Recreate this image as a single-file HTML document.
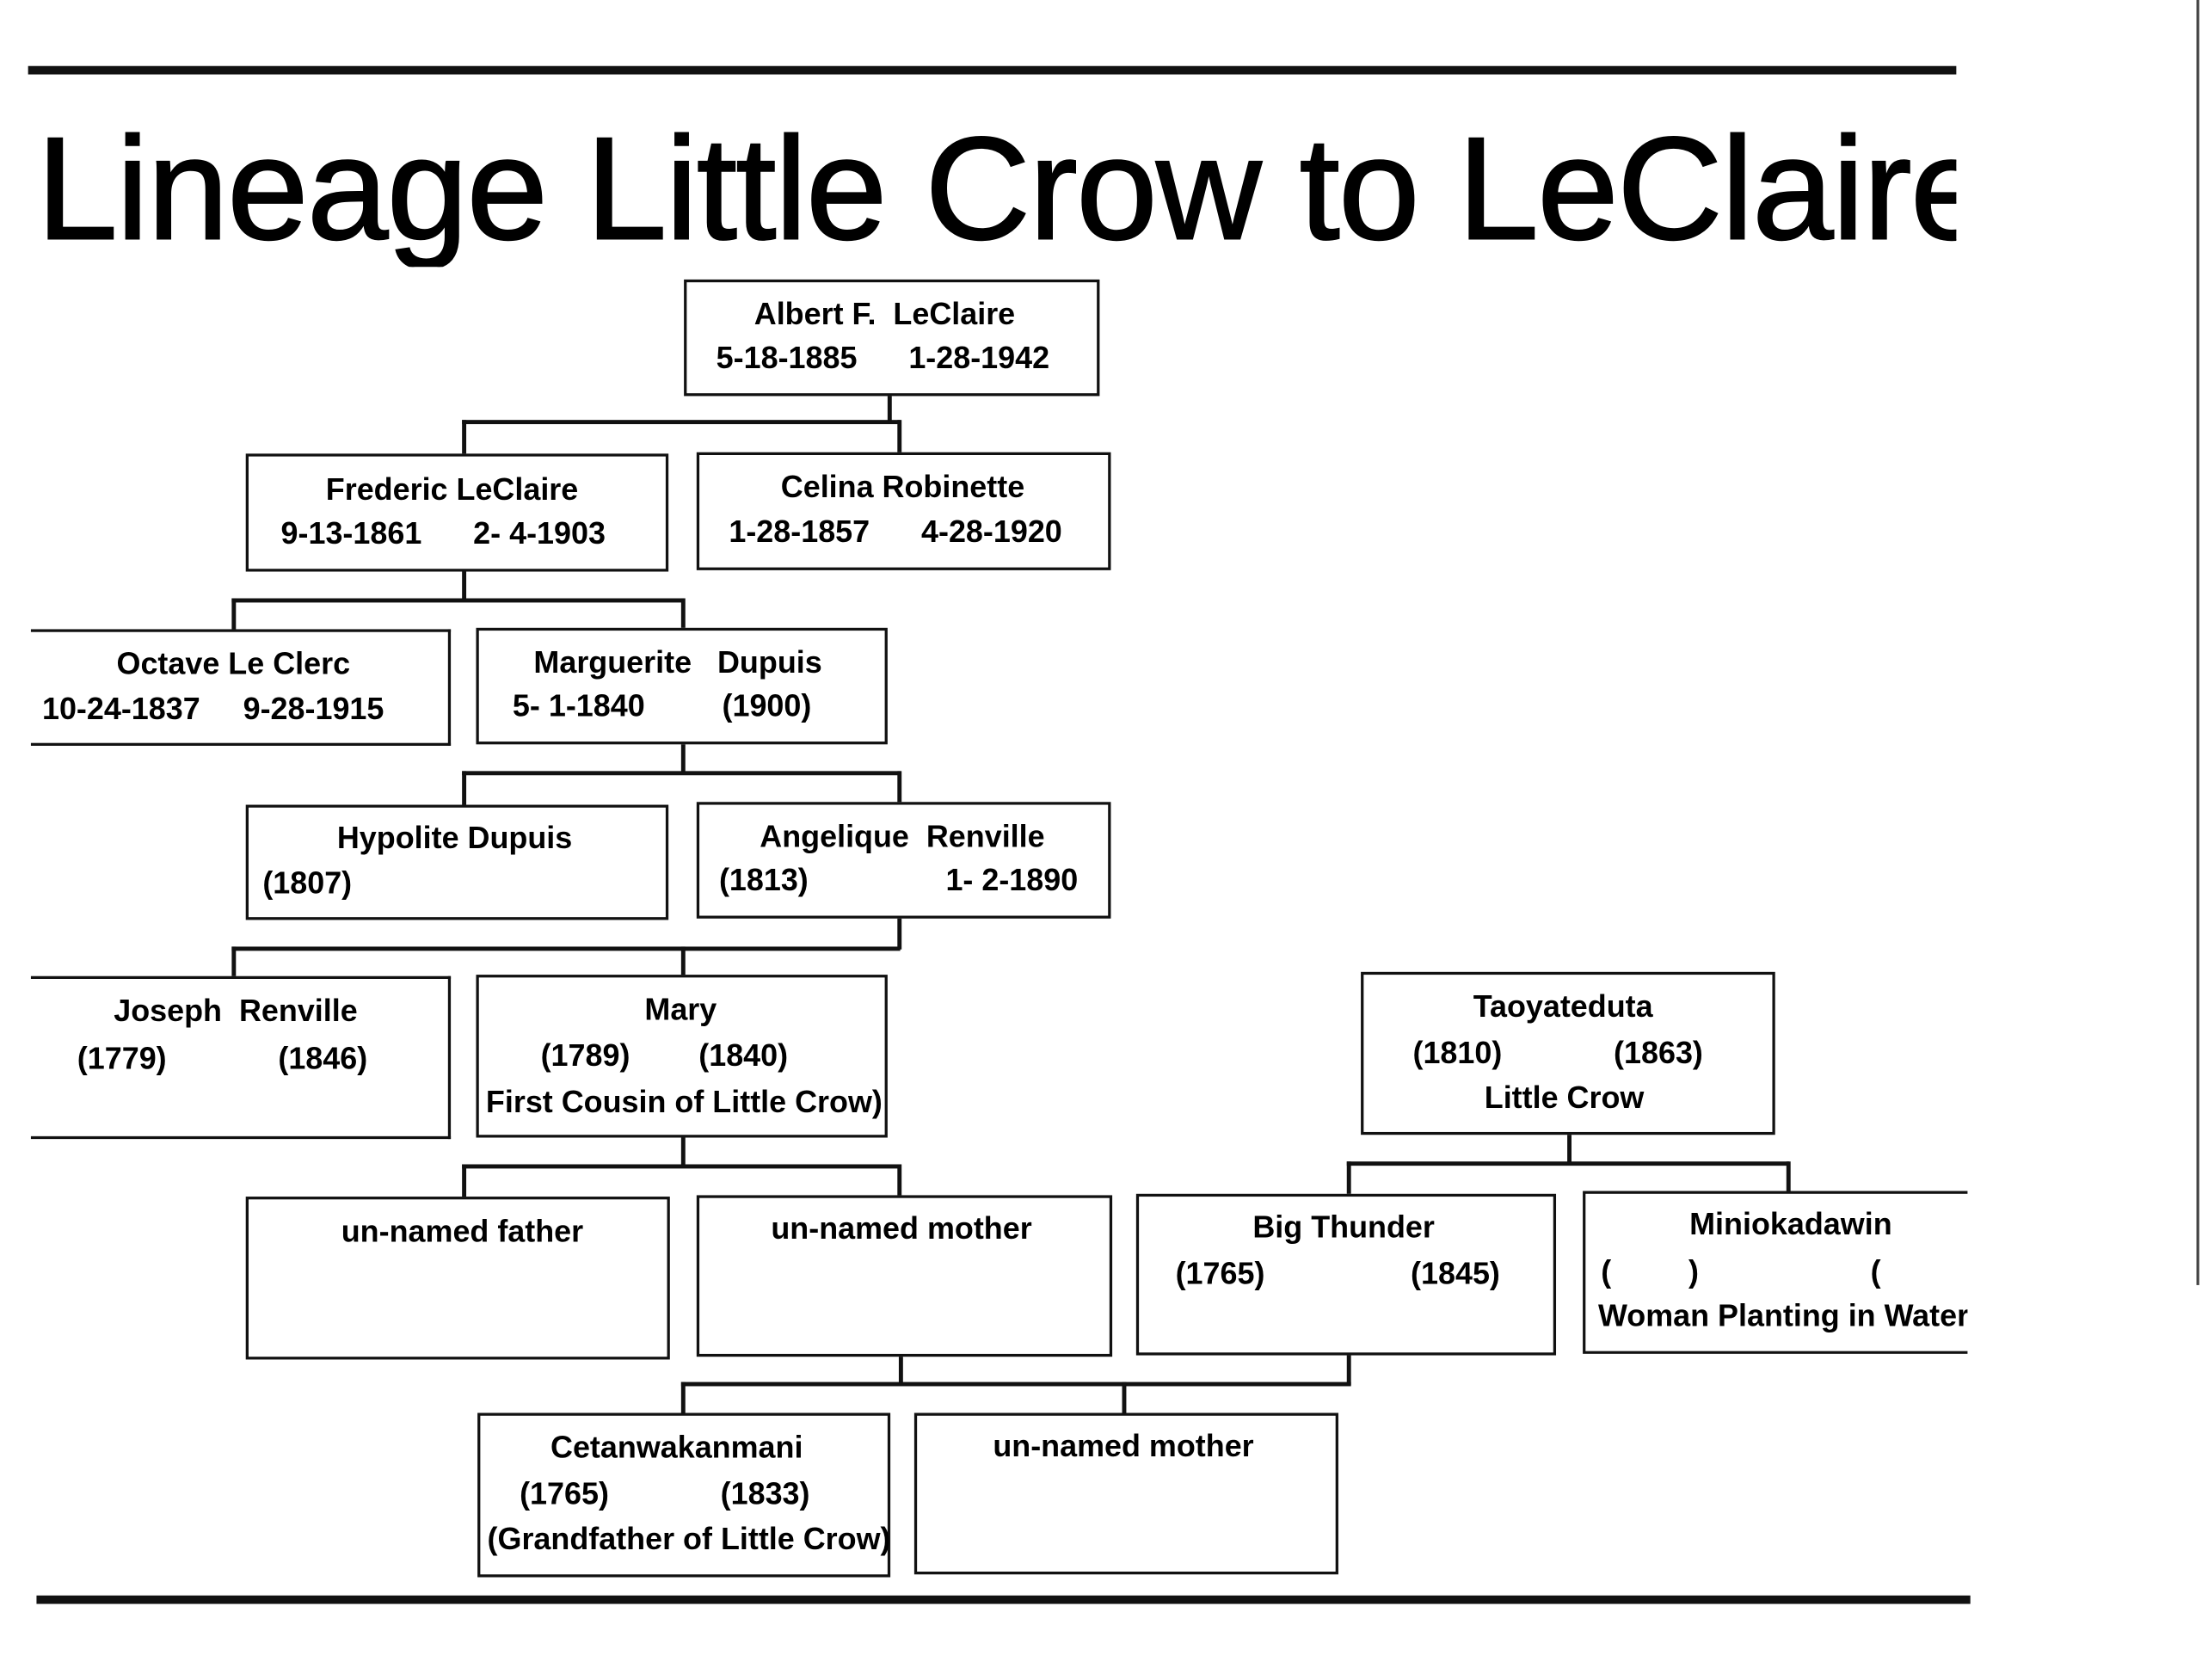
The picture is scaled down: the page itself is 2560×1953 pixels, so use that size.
<!DOCTYPE html>
<html><head><meta charset="utf-8"><style>
html,body{margin:0;padding:0;background:#fff;}
body{width:2560px;height:1953px;overflow:hidden;position:relative;}
#w{position:absolute;left:0;top:0;width:1568px;height:1196px;transform:scale(1.6327);transform-origin:0 0;font-family:"Liberation Sans",Arial,sans-serif;color:#000;}
.b{position:absolute;border:2.5px solid #111;box-sizing:border-box;background:#fff;}
.l{position:absolute;background:#111;}
.t{position:absolute;font-weight:bold;font-size:22px;letter-spacing:0px;white-space:nowrap;line-height:1;}
</style></head><body><div id="w">
<div class="l" style="left:20px;top:47px;width:1373px;height:6px"></div>
<div style="position:absolute;left:26px;top:80px;width:1367px;height:110px;overflow:hidden;">
<div style="font-size:104px;line-height:110px;white-space:nowrap;letter-spacing:-1px;-webkit-text-stroke:1.2px #000;">Lineage Little Crow to LeClaire</div></div>
<div class="l" style="left:26px;top:1136px;width:1377px;height:6px"></div>
<div class="l" style="left:1564px;top:0;width:2px;height:915px;background:#444"></div>

<div class="l" style="left:632px;top:281px;width:2.5px;height:20px"></div>
<div class="l" style="left:329px;top:299px;width:312px;height:2.5px"></div>
<div class="l" style="left:329px;top:299px;width:2.5px;height:25px"></div>
<div class="l" style="left:639px;top:299px;width:2.5px;height:25px"></div>

<div class="l" style="left:329px;top:405px;width:2.5px;height:22px"></div>
<div class="l" style="left:165px;top:426px;width:322px;height:2.5px"></div>
<div class="l" style="left:165px;top:426px;width:2.5px;height:23px"></div>
<div class="l" style="left:485px;top:426px;width:2.5px;height:23px"></div>

<div class="l" style="left:485px;top:529px;width:2.5px;height:22px"></div>
<div class="l" style="left:329px;top:549px;width:312px;height:2.5px"></div>
<div class="l" style="left:329px;top:549px;width:2.5px;height:25px"></div>
<div class="l" style="left:639px;top:549px;width:2.5px;height:25px"></div>

<div class="l" style="left:639px;top:652px;width:2.5px;height:24px"></div>
<div class="l" style="left:165px;top:674px;width:476px;height:2.5px"></div>
<div class="l" style="left:165px;top:674px;width:2.5px;height:22px"></div>
<div class="l" style="left:485px;top:674px;width:2.5px;height:22px"></div>

<div class="l" style="left:485px;top:808px;width:2.5px;height:22px"></div>
<div class="l" style="left:329px;top:829px;width:312px;height:2.5px"></div>
<div class="l" style="left:329px;top:829px;width:2.5px;height:24px"></div>
<div class="l" style="left:639px;top:829px;width:2.5px;height:24px"></div>

<div class="l" style="left:1116px;top:806px;width:2.5px;height:22px"></div>
<div class="l" style="left:959px;top:827px;width:315px;height:2.5px"></div>
<div class="l" style="left:959px;top:827px;width:2.5px;height:24px"></div>
<div class="l" style="left:1272px;top:827px;width:2.5px;height:24px"></div>

<div class="l" style="left:640px;top:964px;width:2.5px;height:22px"></div>
<div class="l" style="left:959px;top:963px;width:2.5px;height:23px"></div>
<div class="l" style="left:485px;top:984px;width:477px;height:2.5px"></div>
<div class="l" style="left:485px;top:984px;width:2.5px;height:23px"></div>
<div class="l" style="left:799px;top:984px;width:2.5px;height:23px"></div>

<div class="b" style="left:487px;top:199px;width:296px;height:83px"></div>
<div class="t" style="left:537px;top:213px">Albert F.&nbsp; LeClaire</div>
<div class="t" style="left:510px;top:244px">5-18-1885&nbsp;&nbsp;&nbsp;&nbsp;&nbsp; 1-28-1942</div>

<div class="b" style="left:175px;top:323px;width:301px;height:84px"></div>
<div class="t" style="left:232px;top:338px">Frederic LeClaire</div>
<div class="t" style="left:200px;top:369px">9-13-1861&nbsp;&nbsp;&nbsp;&nbsp;&nbsp; 2- 4-1903</div>

<div class="b" style="left:496px;top:322px;width:295px;height:84px"></div>
<div class="t" style="left:556px;top:336px">Celina Robinette</div>
<div class="t" style="left:519px;top:368px">1-28-1857&nbsp;&nbsp;&nbsp;&nbsp;&nbsp; 4-28-1920</div>

<div class="b" style="left:22px;top:448px;width:299px;height:83px;border-left:none"></div>
<div class="t" style="left:83px;top:462px">Octave Le Clerc</div>
<div class="t" style="left:30px;top:494px">10-24-1837&nbsp;&nbsp;&nbsp;&nbsp; 9-28-1915</div>

<div class="b" style="left:339px;top:447px;width:293px;height:83px"></div>
<div class="t" style="left:380px;top:461px">Marguerite&nbsp;&nbsp; Dupuis</div>
<div class="t" style="left:365px;top:492px">5- 1-1840&nbsp;&nbsp;&nbsp;&nbsp;&nbsp;&nbsp;&nbsp;&nbsp; (1900)</div>

<div class="b" style="left:175px;top:573px;width:301px;height:82px"></div>
<div class="t" style="left:240px;top:586px">Hypolite Dupuis</div>
<div class="t" style="left:187px;top:618px">(1807)</div>

<div class="b" style="left:496px;top:571px;width:295px;height:83px"></div>
<div class="t" style="left:541px;top:585px">Angelique&nbsp; Renville</div>
<div class="t" style="left:512px;top:616px">(1813)&nbsp;&nbsp;&nbsp;&nbsp;&nbsp;&nbsp;&nbsp;&nbsp;&nbsp;&nbsp;&nbsp;&nbsp;&nbsp;&nbsp;&nbsp; 1- 2-1890</div>

<div class="b" style="left:22px;top:695px;width:299px;height:116px;border-left:none"></div>
<div class="t" style="left:81px;top:709px">Joseph&nbsp; Renville</div>
<div class="t" style="left:55px;top:743px">(1779)&nbsp;&nbsp;&nbsp;&nbsp;&nbsp;&nbsp;&nbsp;&nbsp;&nbsp;&nbsp;&nbsp;&nbsp; (1846)</div>

<div class="b" style="left:339px;top:694px;width:293px;height:116px"></div>
<div class="t" style="left:459px;top:708px">Mary</div>
<div class="t" style="left:385px;top:741px">(1789)&nbsp;&nbsp;&nbsp;&nbsp;&nbsp;&nbsp;&nbsp; (1840)</div>
<div class="t" style="left:346px;top:774px">First Cousin of Little Crow)</div>

<div class="b" style="left:969px;top:692px;width:295px;height:116px"></div>
<div class="t" style="left:1049px;top:706px">Taoyateduta</div>
<div class="t" style="left:1006px;top:739px">(1810)&nbsp;&nbsp;&nbsp;&nbsp;&nbsp;&nbsp;&nbsp;&nbsp;&nbsp;&nbsp;&nbsp;&nbsp; (1863)</div>
<div class="t" style="left:1057px;top:771px">Little Crow</div>

<div class="b" style="left:175px;top:852px;width:302px;height:116px"></div>
<div class="t" style="left:243px;top:866px">un-named father</div>

<div class="b" style="left:496px;top:851px;width:296px;height:115px"></div>
<div class="t" style="left:549px;top:864px">un-named mother</div>

<div class="b" style="left:809px;top:850px;width:299px;height:115px"></div>
<div class="t" style="left:892px;top:863px">Big Thunder</div>
<div class="t" style="left:837px;top:896px">(1765)&nbsp;&nbsp;&nbsp;&nbsp;&nbsp;&nbsp;&nbsp;&nbsp;&nbsp;&nbsp;&nbsp;&nbsp;&nbsp;&nbsp;&nbsp;&nbsp; (1845)</div>

<div style="position:absolute;left:1127px;top:848px;width:274px;height:116px;overflow:hidden;">
<div class="b" style="left:0;top:0;width:300px;height:116px"></div>
<div class="t" style="left:76px;top:13px">Miniokadawin</div>
<div class="t" style="left:13px;top:47px">(&nbsp;&nbsp;&nbsp;&nbsp;&nbsp;&nbsp;&nbsp;&nbsp; )&nbsp;&nbsp;&nbsp;&nbsp;&nbsp;&nbsp;&nbsp;&nbsp;&nbsp;&nbsp;&nbsp;&nbsp;&nbsp;&nbsp;&nbsp;&nbsp;&nbsp;&nbsp;&nbsp; (</div>
<div class="t" style="left:11px;top:78px">Woman Planting in Water</div>
</div>

<div class="b" style="left:340px;top:1006px;width:294px;height:117px"></div>
<div class="t" style="left:392px;top:1020px">Cetanwakanmani</div>
<div class="t" style="left:370px;top:1053px">(1765)&nbsp;&nbsp;&nbsp;&nbsp;&nbsp;&nbsp;&nbsp;&nbsp;&nbsp;&nbsp;&nbsp;&nbsp; (1833)</div>
<div class="t" style="left:347px;top:1085px">(Grandfather of Little Crow)</div>

<div class="b" style="left:651px;top:1006px;width:302px;height:115px"></div>
<div class="t" style="left:707px;top:1019px">un-named mother</div>
</div></body></html>
